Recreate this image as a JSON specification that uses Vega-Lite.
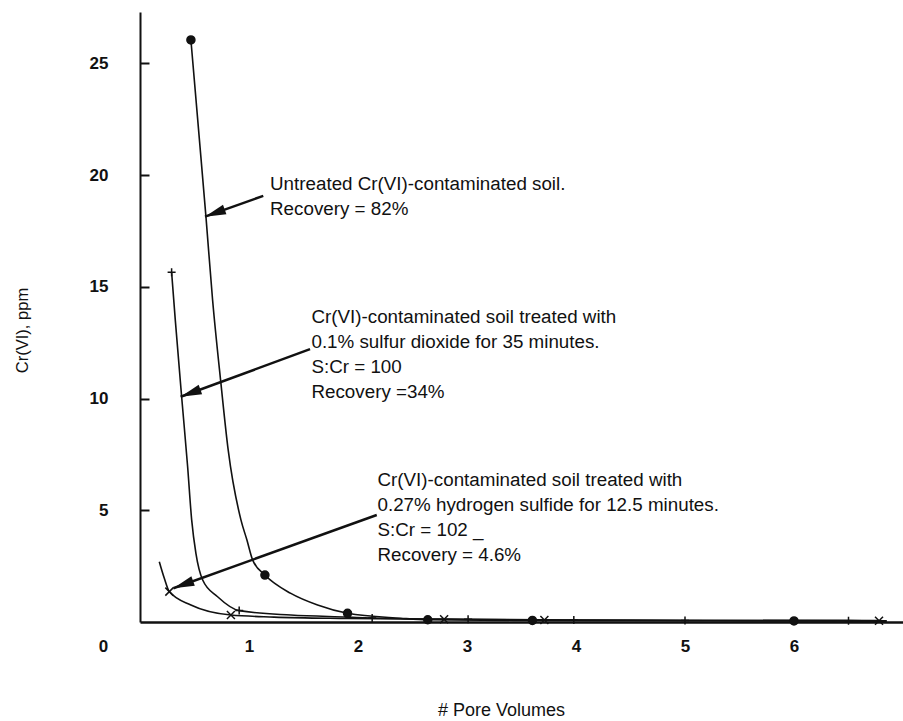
{
  "$schema": "https://vega.github.io/schema/vega-lite/v6.json",
  "width": 763,
  "height": 610,
  "autosize": {"type": "none"},
  "padding": {"left": 140, "top": 12, "right": 0, "bottom": 99},
  "background": "white",
  "config": {"view": {"stroke": null}, "font": "Liberation Sans"},
  "datasets": {
    "curves": [
      {"series": "untreated", "x": 0.467, "y": 26.05},
      {"series": "untreated", "x": 0.536, "y": 22.1},
      {"series": "untreated", "x": 0.605, "y": 18.14},
      {"series": "untreated", "x": 0.666, "y": 14.41},
      {"series": "untreated", "x": 0.742, "y": 10.7},
      {"series": "untreated", "x": 0.809, "y": 7.7},
      {"series": "untreated", "x": 0.926, "y": 4.57},
      {"series": "untreated", "x": 0.981, "y": 3.67},
      {"series": "untreated", "x": 1.033, "y": 2.78},
      {"series": "untreated", "x": 1.146, "y": 2.1},
      {"series": "untreated", "x": 1.384, "y": 1.28},
      {"series": "untreated", "x": 1.629, "y": 0.76},
      {"series": "untreated", "x": 1.904, "y": 0.39},
      {"series": "untreated", "x": 2.39, "y": 0.17},
      {"series": "untreated", "x": 2.64, "y": 0.1},
      {"series": "untreated", "x": 3.6, "y": 0.07},
      {"series": "untreated", "x": 4.5, "y": 0.06},
      {"series": "untreated", "x": 6.0, "y": 0.05},
      {"series": "untreated", "x": 6.85, "y": 0.04},
      {"series": "so2", "x": 0.29, "y": 15.65},
      {"series": "so2", "x": 0.324, "y": 13.5},
      {"series": "so2", "x": 0.382, "y": 10.08},
      {"series": "so2", "x": 0.437, "y": 6.95},
      {"series": "so2", "x": 0.474, "y": 4.57},
      {"series": "so2", "x": 0.513, "y": 3.07},
      {"series": "so2", "x": 0.575, "y": 1.88},
      {"series": "so2", "x": 0.712, "y": 1.13},
      {"series": "so2", "x": 0.91, "y": 0.51},
      {"series": "so2", "x": 1.384, "y": 0.31},
      {"series": "so2", "x": 1.904, "y": 0.22},
      {"series": "so2", "x": 2.13, "y": 0.18},
      {"series": "so2", "x": 3.01, "y": 0.12},
      {"series": "so2", "x": 3.98, "y": 0.09},
      {"series": "so2", "x": 5.0, "y": 0.07},
      {"series": "so2", "x": 6.5, "y": 0.06},
      {"series": "so2", "x": 6.85, "y": 0.05},
      {"series": "h2s", "x": 0.177, "y": 2.7},
      {"series": "h2s", "x": 0.223, "y": 1.96},
      {"series": "h2s", "x": 0.269, "y": 1.36},
      {"series": "h2s", "x": 0.467, "y": 0.76},
      {"series": "h2s", "x": 0.834, "y": 0.31},
      {"series": "h2s", "x": 1.23, "y": 0.22},
      {"series": "h2s", "x": 1.9, "y": 0.16},
      {"series": "h2s", "x": 2.79, "y": 0.12},
      {"series": "h2s", "x": 3.71, "y": 0.09},
      {"series": "h2s", "x": 6.78, "y": 0.06}
    ],
    "points": [
      {"series": "untreated", "x": 0.467, "y": 26.05},
      {"series": "untreated", "x": 1.146, "y": 2.1},
      {"series": "untreated", "x": 1.904, "y": 0.39},
      {"series": "untreated", "x": 2.64, "y": 0.1},
      {"series": "untreated", "x": 3.6, "y": 0.07},
      {"series": "untreated", "x": 6.0, "y": 0.05},
      {"series": "so2", "x": 0.29, "y": 15.65},
      {"series": "so2", "x": 0.91, "y": 0.51},
      {"series": "so2", "x": 2.13, "y": 0.18},
      {"series": "so2", "x": 3.01, "y": 0.12},
      {"series": "so2", "x": 3.98, "y": 0.09},
      {"series": "so2", "x": 5.0, "y": 0.07},
      {"series": "so2", "x": 6.5, "y": 0.06},
      {"series": "h2s", "x": 0.269, "y": 1.36},
      {"series": "h2s", "x": 0.834, "y": 0.31},
      {"series": "h2s", "x": 2.79, "y": 0.12},
      {"series": "h2s", "x": 3.71, "y": 0.09},
      {"series": "h2s", "x": 6.78, "y": 0.06}
    ],
    "arrows": [
      {"sx": 1.131, "sy": 19.07, "tx": 0.596, "ty": 18.14},
      {"sx": 1.56, "sy": 12.21, "tx": 0.373, "ty": 10.08},
      {"sx": 2.172, "sy": 4.79, "tx": 0.306, "ty": 1.51}
    ],
    "notes": [
      {"x": 1.193, "y": 19.35, "text": "Untreated Cr(VI)-contaminated soil.\nRecovery = 82%"},
      {"x": 1.573, "y": 13.4, "text": "Cr(VI)-contaminated soil treated with\n0.1% sulfur dioxide for 35 minutes.\nS:Cr = 100\nRecovery =34%"},
      {"x": 2.179, "y": 6.09, "text": "Cr(VI)-contaminated soil treated with\n0.27% hydrogen sulfide for 12.5 minutes.\nS:Cr = 102  _\nRecovery = 4.6%"}
    ]
  },
  "layer": [
    {
      "data": {"name": "curves"},
      "mark": {"type": "line", "interpolate": "monotone", "color": "#111", "strokeWidth": 1.6},
      "encoding": {
        "x": {
          "field": "x", "type": "quantitative",
          "scale": {"domain": [0, 7], "nice": false, "zero": false},
          "axis": {
            "title": "# Pore Volumes",
            "values": [0, 1, 2, 3, 4, 5, 6],
            "format": "d",
            "ticks": false,
            "grid": false,
            "domainColor": "#111",
            "domainWidth": 2.5,
            "labelFont": "Liberation Sans",
            "labelFontSize": 17,
            "labelFontWeight": "bold",
            "labelColor": "#111",
            "labelPadding": 16,
            "labelFlush": false,
            "labelOffset": {"condition": {"test": "datum.value === 0", "value": -37}, "value": 0},
            "titleFont": "Liberation Sans",
            "titleFontSize": 18,
            "titleFontWeight": "normal",
            "titleColor": "#111",
            "titleX": 361,
            "titleY": 88,
            "titleBaseline": "middle",
            "titleAlign": "center"
          }
        },
        "y": {
          "field": "y", "type": "quantitative",
          "scale": {"domain": [0, 27.3], "nice": false, "zero": true},
          "axis": {
            "title": "Cr(VI), ppm",
            "values": [5, 10, 15, 20, 25],
            "tickSize": -9,
            "tickWidth": 2,
            "tickColor": "#111",
            "grid": false,
            "domainColor": "#111",
            "domainWidth": 2,
            "labelFont": "Liberation Sans",
            "labelFontSize": 17,
            "labelFontWeight": "bold",
            "labelColor": "#111",
            "labelPadding": 41,
            "titleFont": "Liberation Sans",
            "titleFontSize": 16.5,
            "titleFontWeight": "normal",
            "titleColor": "#111",
            "titleX": -118,
            "titleY": 318,
            "titleAngle": 270,
            "titleBaseline": "middle",
            "titleAlign": "center"
          }
        },
        "detail": {"field": "series"}
      }
    },
    {
      "data": {"name": "points"},
      "mark": {"type": "point", "fill": "#111", "stroke": "#111", "strokeWidth": 1.5, "opacity": 1, "size": 64},
      "encoding": {
        "x": {"field": "x", "type": "quantitative"},
        "y": {"field": "y", "type": "quantitative"},
        "shape": {
          "field": "series", "type": "nominal",
          "scale": {"domain": ["untreated", "so2", "h2s"], "range": ["circle", "M-1,0L1,0M0,-1L0,1", "M-1,-1L1,1M-1,1L1,-1"]},
          "legend": null
        }
      }
    },
    {
      "data": {"name": "arrows"},
      "mark": {"type": "rule", "color": "#111", "strokeWidth": 2.5},
      "encoding": {
        "x": {"field": "sx", "type": "quantitative"},
        "y": {"field": "sy", "type": "quantitative"},
        "x2": {"field": "tx"},
        "y2": {"field": "ty"}
      }
    },
    {
      "data": {"name": "arrows"},
      "mark": {"type": "point", "shape": "M0,0L-0.24,1L0.24,1Z", "angle": 250, "size": 1764, "filled": true, "color": "#111", "opacity": 1},
      "encoding": {
        "x": {"field": "tx", "type": "quantitative"},
        "y": {"field": "ty", "type": "quantitative"}
      }
    },
    {
      "data": {"name": "notes"},
      "mark": {"type": "text", "align": "left", "baseline": "alphabetic", "lineBreak": "\n", "lineHeight": 25, "font": "Liberation Sans", "fontSize": 18.8, "color": "#111"},
      "encoding": {
        "x": {"field": "x", "type": "quantitative"},
        "y": {"field": "y", "type": "quantitative"},
        "text": {"field": "text"}
      }
    }
  ]
}
